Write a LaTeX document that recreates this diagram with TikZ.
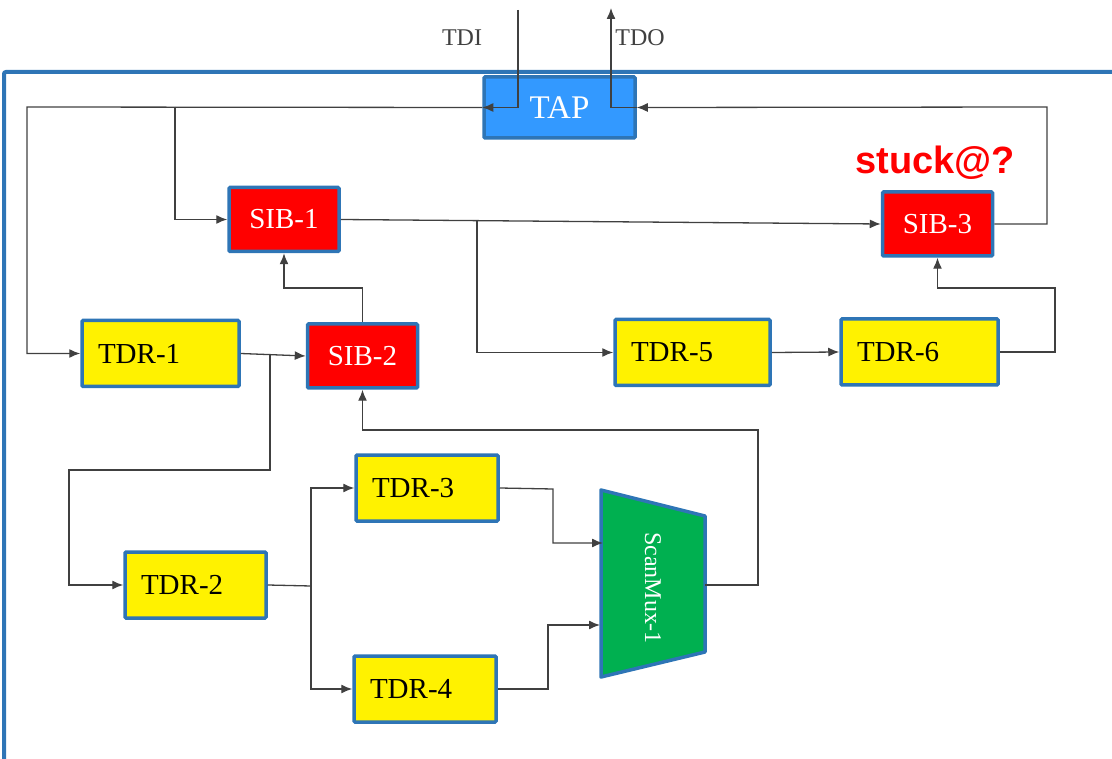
\documentclass[tikz,border=0pt]{standalone}
\usepackage{fontspec}
\setmainfont{Liberation Serif}
\newfontfamily\stuckfont{Liberation Sans}
\usepackage{tikz}
\usetikzlibrary{arrows.meta,positioning}

\definecolor{frameblue}{HTML}{2E75B6}
\definecolor{tapblue}{HTML}{3399FF}
\definecolor{muxgreen}{HTML}{00B050}
\definecolor{wiregray}{HTML}{404040}

\begin{document}
\begin{tikzpicture}[
  x=1pt,y=-1pt,
  font=\fontsize{29}{34}\selectfont,
  box/.style={draw=frameblue,line width=3.5pt,rounded corners=1pt,minimum height=64pt},
  sib/.style={box,fill=red,text=white,minimum width=110pt},
  tdr/.style={box,fill=yellow,text=black,minimum width=#1,minimum height=66pt},
  tdr/.default=157pt,
  pinlabel/.style={text=wiregray,font=\fontsize{24}{28}\selectfont},
  wire/.style={draw=wiregray,line width=1.3pt},
  arrow/.style={wire,-{Latex[length=11pt,width=9pt]}}
]
\newcommand\tdrtext[2]{\makebox[#1][l]{#2}}
\useasboundingbox (0,0) rectangle (1112,759);
% outer frame
\draw[frameblue,line width=4pt,rounded corners=2pt] (4,759) |- (1112,72);

\node[box,fill=tapblue,text=white,minimum width=151pt,minimum height=61pt,font=\fontsize{33}{36}\selectfont] (tap) at (559.5,107.5) {TAP};
\node[pinlabel] (tdilbl) at (462,38) {TDI};
\node[pinlabel] (tdolbl) at (640,38) {TDO};

\node[sib] (sib1) at (284,219.5) {SIB-1};
\node[sib] (sib2) at (362.5,356) {SIB-2};
\node[sib] (sib3) at (937.5,224) {SIB-3};

\node[tdr] (tdr1) at (160.5,353.5) {\tdrtext{125pt}{TDR-1}};
\node[tdr=141pt] (tdr2) at (195.5,585) {\tdrtext{109pt}{TDR-2}};
\node[tdr=142pt] (tdr3) at (427,488) {\tdrtext{110pt}{TDR-3}};
\node[tdr=142pt] (tdr4) at (425,689) {\tdrtext{110pt}{TDR-4}};
\node[tdr=155pt] (tdr5) at (692.5,352.5) {\tdrtext{123pt}{TDR-5}};
\node[tdr] (tdr6) at (919.5,352) {\tdrtext{125pt}{TDR-6}};

% scan mux
\draw[draw=frameblue,line width=3.5pt,fill=muxgreen,line join=round] (601,490) -- (705,516) -- (705,652) -- (601,677) -- cycle;
\node[text=white,rotate=-90,font=\fontsize{24}{26}\selectfont] (mux) at (653,588) {ScanMux-1};
\coordinate (muxin1) at (603,543);
\coordinate (muxin2) at (600,625);
\coordinate (muxout) at (705,585);

\node[text=red,font=\stuckfont\bfseries\fontsize{38}{42}\selectfont] (stuck) at (935,163) {stuck@?};

% turning points
\coordinate (tdi) at (518,10);
\coordinate (tdo) at (611,8);
\coordinate (lc) at (27,107);
\coordinate (br1) at (175,107);
\coordinate (br2) at (477,220);
\coordinate (br3) at (270,355);
\coordinate (br4) at (311,586);
\coordinate (c3) at (1047,107);
\coordinate (c4) at (69,470);
\coordinate (c5) at (362.5,288);
\coordinate (c6) at (1055,288);
\coordinate (c7) at (758,430);
\coordinate (c8) at (553,489);
\coordinate (c9) at (548,689);

\draw[arrow] (tdi) |- (tap.west);
\draw[arrow] (tap.east) -| (tdo);
\draw[arrow] (tap.west) -- (lc) |- (tdr1.west);
\draw[arrow] (br1) |- (sib1.west);
\draw[arrow] (sib1.east) -- (sib3.west);
\draw[arrow] (br2) |- (tdr5.west);
\draw[arrow] (tdr5.east) -- (tdr6.east -| tdr6.west);
\draw[arrow] (tdr6.east) -| (c6) -| (sib3.south);
\draw[arrow] (sib3.east) -| (c3) -- (tap.east);
\draw[arrow] (tdr1.east) -- (sib2.west);
\draw[arrow] (sib2.north) -- (c5) -| (sib1.south);
\draw[arrow] (br3) |- (c4) |- (tdr2.west);
\draw[wire] (tdr2.east) -- (br4);
\draw[arrow] (br4) |- (tdr3.west);
\draw[arrow] (br4) |- (tdr4.west);
\draw[arrow] (tdr3.east) -- (c8) |- (muxin1);
\draw[arrow] (tdr4.east) -- (c9) |- (muxin2);
\draw[arrow] (muxout) -| (c7) -| (sib2.south);
\end{tikzpicture}
\end{document}
